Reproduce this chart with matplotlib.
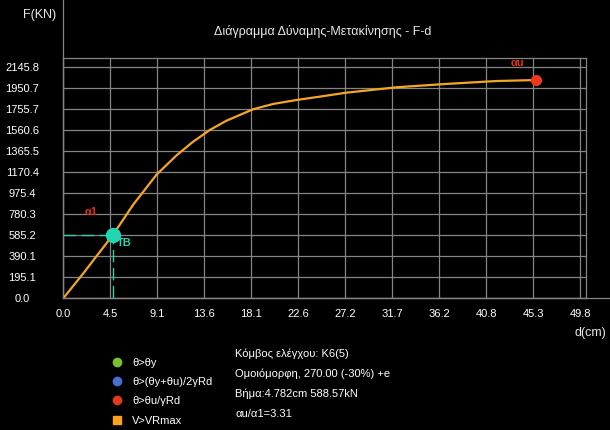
import matplotlib
matplotlib.use('Agg')
import matplotlib.pyplot as plt
from matplotlib.lines import Line2D

plt.rcParams['font.family'] = ['Liberation Sans', 'DejaVu Sans']

# pushover curve
disp = [0.0, 1.93, 4.782, 6.74, 9.00, 10.92, 12.45, 14.13, 15.74, 18.30,
        20.23, 22.49, 24.73, 27.30, 32.12, 36.94, 41.75, 45.6]
force = [0.0, 232.0, 588.57, 870.0, 1150.0, 1328.0, 1450.0, 1564.0, 1650.0, 1756.0,
         1805.0, 1842.0, 1873.0, 1910.0, 1960.0, 1991.0, 2018.0, 2027.0]

yield_pt = (4.782, 588.57)
ult_pt = (45.6, 2027.0)

xticks = [i * 4.528 for i in range(12)]
yticks = [i * 195.07 for i in range(12)]
xticklabels = ['0.0', '4.5', '9.1', '13.6', '18.1', '22.6', '27.2', '31.7',
               '36.2', '40.8', '45.3', '49.8']
yticklabels = ['0.0', '195.1', '390.1', '585.2', '780.3', '975.4', '1170.4',
               '1365.5', '1560.6', '1755.7', '1950.7', '2145.8']

legend_labels = ['θ>θy', 'θ>(θy+θu)/2γRd', 'θ>θu/γRd', 'V>VRmax']
legend_colors = ['#7cc030', '#4a6ed0', '#e03a20', '#ffa020']
legend_markers = ['o', 'o', 'o', 's']

info_lines = ['Κόμβος ελέγχου: K6(5)', 'Ομοιόμορφη, 270.00 (-30%) +e',
              'Βήμα:4.782cm 588.57kN', 'αu/α1=3.31']

W, H = 610, 430
fig = plt.figure(figsize=(W / 100, H / 100), dpi=100, facecolor='black')
ax = fig.add_axes([63.3 / W, 1 - 298.3 / H, (585.7 - 63.3) / W, (298.3 - 58.3) / H])
ax.set_facecolor('black')

grid_c = '#858585'
ax.set_xlim(0, 50.35)
ax.set_ylim(0, 2229)
ax.set_xticks(xticks)
ax.set_xticklabels(xticklabels)
ax.set_yticks(yticks)
ax.set_yticklabels(yticklabels, ha='center')
ax.tick_params(axis='both', length=0, labelsize=8, labelcolor='white')
ax.tick_params(axis='y', pad=29.5)
ax.tick_params(axis='x', pad=8)
ax.grid(True, color=grid_c, linewidth=0.9)
for s in ax.spines.values():
    s.set_color(grid_c)
    s.set_linewidth(0.9)

# longer axis lines as in the original
fig.add_artist(Line2D([63.3 / W, 63.3 / W], [1 - 298.3 / H, 1.0], color=grid_c,
                      linewidth=0.9, transform=fig.transFigure))
fig.add_artist(Line2D([63.3 / W, 1.0], [1 - 298.3 / H, 1 - 298.3 / H], color=grid_c,
                      linewidth=0.9, transform=fig.transFigure))

ax.plot(disp, force, color='#f5a623', linewidth=1.6, zorder=3)

cyan = '#22d6b0'
ax.plot([0, yield_pt[0]], [yield_pt[1], yield_pt[1]], color=cyan, linewidth=1,
        dashes=(9, 4), zorder=3)
ax.plot([yield_pt[0], yield_pt[0]], [0, yield_pt[1]], color=cyan, linewidth=1,
        dashes=(9, 4), zorder=3)
ax.plot(*yield_pt, 'o', color=cyan, markersize=10, zorder=4)
ax.plot(*ult_pt, 'o', color='#ee3a1c', markersize=7, zorder=4)

ax.annotate('α1', yield_pt, xytext=(-15.4, 16.7), textcoords='offset points',
            color='#e0301c', fontsize=8, fontweight='bold', ha='center', va='center',
            zorder=6)
ax.annotate('TB', yield_pt, xytext=(2.6, -6), textcoords='offset points',
            color=cyan, fontsize=8, fontweight='bold', ha='left', va='center', zorder=6)
ax.annotate('αu', ult_pt, xytext=(-13.7, 12.6), textcoords='offset points',
            color='#e0301c', fontsize=8, fontweight='bold', ha='center', va='center',
            zorder=6, annotation_clip=False)

fig.text(323 / W, 1 - 31.5 / H, 'Διάγραμμα Δύναμης-Μετακίνησης - F-d', color='#e8e8e8',
         fontsize=9, ha='center', va='center')
fig.text(40 / W, 1 - 15 / H, 'F(KN)', color='#e8e8e8', fontsize=9, ha='center', va='center')
fig.text(590 / W, 1 - 333 / H, 'd(cm)', color='#e8e8e8', fontsize=9, ha='center', va='center')

handles = [Line2D([], [], marker=m, color=c, linestyle='none', markersize=6)
           for m, c in zip(legend_markers, legend_colors)]
fig.legend(handles, legend_labels, loc='upper left', bbox_to_anchor=(111 / W, 1 - 357.5 / H),
           frameon=False, fontsize=8, labelcolor='white', handlelength=1.0,
           handletextpad=0.9, labelspacing=0.84, borderpad=0, borderaxespad=0)

for i, line in enumerate(info_lines):
    fig.text(235 / W, 1 - (353.5 + 20.2 * i) / H, line, color='white', fontsize=8,
             ha='left', va='center')

fig.savefig('out.png', dpi=100, facecolor='black')
